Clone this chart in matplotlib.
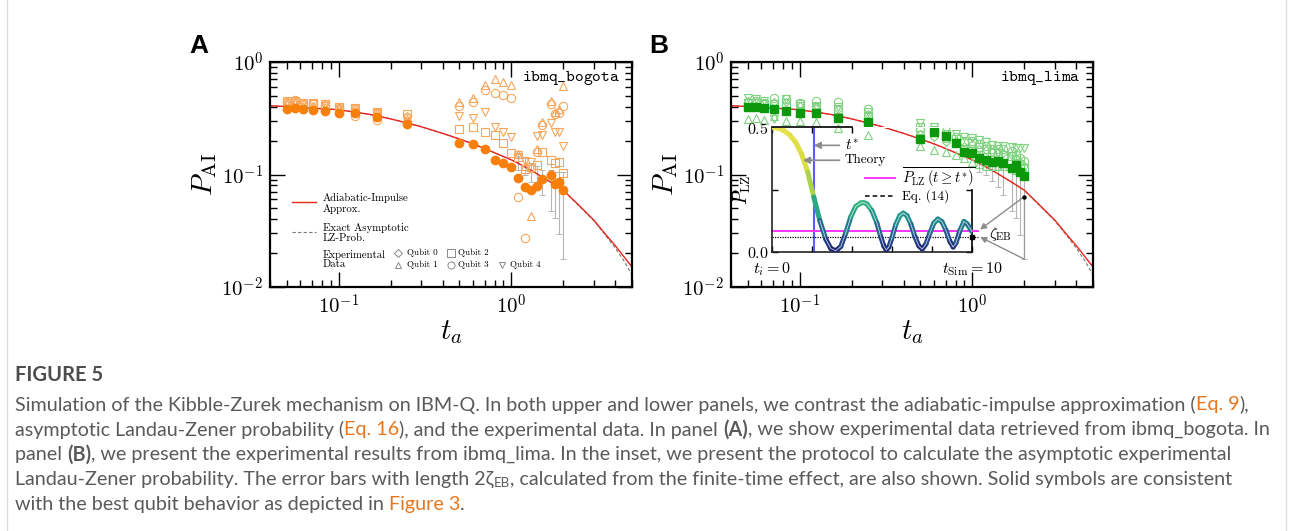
import numpy as np
import matplotlib
matplotlib.use("Agg")
import matplotlib.pyplot as plt
from matplotlib.collections import LineCollection
from matplotlib.colors import LinearSegmentedColormap
from matplotlib.ticker import LogLocator, NullFormatter

plt.rcParams["mathtext.fontset"] = "cm"
plt.rcParams["font.family"] = "DejaVu Sans"
SERIF = "cmr10"
nan = np.nan

# ---------------- data ----------------
t_a = [0.05, 0.0556, 0.0625, 0.0714, 0.0833, 0.1, 0.125, 0.1667, 0.25,
       0.5, 0.6, 0.7, 0.8, 0.9, 1.0, 1.1, 1.2, 1.3, 1.4, 1.5, 1.7, 1.8, 1.9, 2.0]

# panel A : ibmq_bogota
bogota_best = [0.386, 0.392, 0.381, 0.373, 0.366, 0.351, 0.355, 0.323, 0.284,
               0.191, 0.187, 0.169, 0.135, 0.126, 0.116, 0.0927, 0.0782, 0.0727,
               0.0797, 0.0912, 0.0983, 0.0823, 0.0852, 0.0727]
bogota_q0 = [0.43, 0.44, 0.42, 0.41, 0.42, 0.39, 0.38, 0.36, 0.33] + [nan] * 15
bogota_q1 = [0.42, 0.43, 0.41, 0.40, 0.40, 0.38, 0.37, 0.35, 0.31,
             0.437, 0.475, 0.63, 0.71, 0.67, 0.63, 0.153, 0.118, 0.043, 0.168,
             0.29, 0.446, 0.36, 0.38, 0.607]
bogota_q2 = [0.45, 0.44, 0.43, 0.43, 0.42, 0.40, 0.39, 0.36, 0.345,
             0.254, 0.262, 0.238, 0.225, 0.19, 0.156, 0.144, 0.113, 0.116, 0.122,
             0.16, 0.135, 0.126, 0.128, 0.103]
bogota_q3 = [0.44, 0.46, 0.42, 0.42, 0.41, 0.39, 0.33, 0.305, 0.29,
             0.41, 0.44, 0.566, 0.53, 0.505, 0.477, 0.0636, 0.0275, 0.115, 0.16,
             0.278, 0.422, 0.344, 0.351, 0.407]
bogota_q4 = [0.43, 0.45, 0.43, 0.42, 0.42, 0.40, 0.38, 0.355, 0.32,
             0.332, 0.317, 0.358, 0.262, 0.241, 0.217, 0.15, 0.133, 0.13, 0.22,
             0.225, 0.287, 0.238, 0.24, 0.181]

# panel B : ibmq_lima
lima_best = [0.396, 0.401, 0.387, 0.38, 0.367, 0.35, 0.35, 0.316, 0.291,
             0.207, 0.237, 0.221, 0.189, 0.157, 0.154, 0.139, 0.134, 0.128,
             0.132, 0.126, 0.114, 0.121, 0.106, 0.096]
lima_q0 = [0.45, 0.44, 0.43, 0.44, 0.44, 0.41, 0.40, 0.38, 0.345,
           0.23, 0.215, 0.195, 0.20, 0.18, 0.185, 0.17, 0.165, 0.158, 0.16,
           0.155, 0.15, 0.14, 0.13, 0.12]
lima_q1 = [0.31, 0.32, 0.305, 0.33, 0.30, 0.30, 0.29, 0.26, 0.225,
           0.18, 0.165, 0.157, 0.149, 0.141, 0.13, 0.125, 0.12, 0.118, 0.12,
           0.118, 0.115, 0.11, 0.108, 0.105]
lima_q2 = [0.43, 0.43, 0.42, 0.42, 0.43, 0.42, 0.40, 0.38, 0.33,
           0.265, 0.25, 0.23, 0.205, 0.20, 0.19, 0.175, 0.17, 0.16, 0.155,
           0.15, 0.145, 0.135, 0.125, 0.115]
lima_q3 = [0.44, 0.45, 0.43, 0.48, 0.47, 0.43, 0.45, 0.44, 0.38,
           0.25, 0.24, 0.21, 0.215, 0.193, 0.198, 0.185, 0.178, 0.167, 0.167,
           0.167, 0.162, 0.149, 0.139, 0.132]
lima_q4 = [0.48, 0.47, 0.45, 0.31, 0.47, 0.41, 0.41, 0.40, 0.36,
           0.285, 0.266, 0.244, 0.228, 0.217, 0.213, 0.203, 0.193, 0.183, 0.18,
           0.18, 0.177, 0.173, 0.173, 0.171]

# error bars (length 2 zeta_EB)
err_t = [1.1, 1.2, 1.3, 1.4, 1.5, 1.7, 1.8, 1.9, 2.0]
bogota_err_lo = [0.110, 0.099, 0.0866, 0.0833, 0.0657, 0.0475, 0.0409, 0.0293, 0.0177]
bogota_err_hi = [0.153, 0.139, 0.126, 0.118, 0.110, 0.110, 0.106, 0.106, 0.106]
lima_err_lo = [0.106, 0.100, 0.087, 0.078, 0.0657, 0.047, 0.041, 0.029, 0.0177]
lima_err_hi = [0.135, 0.133, 0.126, 0.120, 0.120, 0.114, 0.118, 0.110, 0.110]

# theory curves
theory_t = [0.04, 0.05, 0.07, 0.1, 0.15, 0.2, 0.25, 0.3, 0.4, 0.5, 0.6, 0.7, 0.8,
            1.0, 1.2, 1.4, 1.7, 2.0, 2.5, 3.0, 3.5, 4.0, 4.5, 5.0]
p_ai = [0.408, 0.402, 0.39, 0.376, 0.343, 0.312, 0.287, 0.266, 0.232, 0.207,
        0.187, 0.170, 0.156, 0.135, 0.117, 0.102, 0.085, 0.0725, 0.052, 0.0394,
        0.0296, 0.0233, 0.0185, 0.0151]
p_exact = [0.408, 0.402, 0.39, 0.376, 0.343, 0.312, 0.287, 0.266, 0.232, 0.207,
           0.187, 0.170, 0.156, 0.135, 0.117, 0.102, 0.085, 0.0725, 0.0515, 0.039,
           0.029, 0.0222, 0.017, 0.0128]

# inset: P_LZ(t) for one run
lz_t = [0.0, 0.3, 0.6, 0.9, 1.2, 1.5, 1.8, 2.1, 2.4, 2.7, 2.95, 3.2, 3.45, 3.7,
        3.95, 4.2, 4.45, 4.6, 4.75, 5.0, 5.25, 5.45, 5.6, 5.72, 5.85, 6.0, 6.2,
        6.4, 6.57, 6.75, 6.95, 7.15, 7.35, 7.52, 7.7, 7.9, 8.1, 8.3, 8.5, 8.7,
        8.9, 9.06, 9.2, 9.4, 9.6, 9.75, 10.0]
lz_p = [0.500, 0.498, 0.488, 0.470, 0.440, 0.392, 0.320, 0.220, 0.125, 0.050,
        0.012, 0.003, 0.020, 0.075, 0.140, 0.182, 0.196, 0.197, 0.192, 0.165,
        0.115, 0.058, 0.022, 0.006, 0.018, 0.055, 0.110, 0.145, 0.155, 0.145,
        0.110, 0.060, 0.022, 0.010, 0.030, 0.075, 0.115, 0.131, 0.120, 0.085,
        0.040, 0.018, 0.035, 0.085, 0.121, 0.112, 0.080]
t_star = 2.1
p_lz_mean = 0.083
p_eq14 = 0.060

# ---------------- style ----------------
RED = "#e8261e"
OR_SOLID = "#f77f0a"
OR_HOLLOW = "#f7a65a"
GR_SOLID = "#0b990b"
GR_HOLLOW = "#7fd27f"
MARK = {"q0": "D", "q1": "^", "q2": "s", "q3": "o", "q4": "v"}
MS = {"q0": 4.5, "q1": 5.5, "q2": 6, "q3": 6, "q4": 5.5}

W, H = 1292, 531
fig = plt.figure(figsize=(W / 100, H / 100), dpi=100)
axA = fig.add_axes([270 / W, 1 - 287 / H, 362 / W, 225 / H])
axB = fig.add_axes([731 / W, 1 - 287 / H, 362 / W, 225 / H])


def style_main(ax, name):
    ax.set_xscale("log")
    ax.set_yscale("log")
    ax.set_xlim(0.04, 5)
    ax.set_ylim(0.01, 1)
    ax.set_xticks([0.1, 1])
    ax.set_xticklabels([r"$10^{-1}$", r"$10^{0}$"])
    ax.set_yticks([0.01, 0.1, 1])
    ax.set_yticklabels([r"$10^{-2}$", r"$10^{-1}$", r"$10^{0}$"])
    for axis in (ax.xaxis, ax.yaxis):
        axis.set_minor_locator(LogLocator(base=10, subs=np.arange(2, 10)))
        axis.set_minor_formatter(NullFormatter())
    ax.tick_params(which="both", direction="in", top=True, right=True)
    ax.tick_params(which="major", length=11, width=1.0, labelsize=15, pad=5)
    ax.tick_params(which="minor", length=5, width=1.0)
    for s in ax.spines.values():
        s.set_linewidth(1.6)
    ax.set_xlabel(r"$t_a$", fontsize=21, labelpad=0)
    ax.set_ylabel(r"$P_{\rm AI}$", fontsize=21, labelpad=2)
    ax.text(0.967, 0.929, r"$\mathtt{" + name + "}$", transform=ax.transAxes,
            ha="right", va="center", fontsize=12)
    ax.plot(theory_t, p_exact, color="#777777", lw=0.8, ls=(0, (3, 2)), zorder=2)
    ax.plot(theory_t, p_ai, color=RED, lw=1.0, zorder=2.1)


def plot_data(ax, series, best, solid_marker, c_solid, c_hollow, lo, hi):
    ax.errorbar(err_t, hi, yerr=[np.subtract(hi, lo), np.zeros(len(hi))], fmt="none",
                ecolor="#b5b5b5", elinewidth=0.8, capsize=2, capthick=0.7, zorder=1)
    for key, vals in series.items():
        ax.plot(t_a, vals, ls="none", marker=MARK[key], ms=MS[key], mfc="none",
                mec=c_hollow, mew=0.8, zorder=3)
    ax.plot(t_a, best, ls="none", marker=solid_marker, ms=6, color=c_solid,
            mec=c_solid, zorder=4)


style_main(axA, r"ibmq\_bogota")
style_main(axB, r"ibmq\_lima")
plot_data(axA, {"q0": bogota_q0, "q1": bogota_q1, "q2": bogota_q2, "q3": bogota_q3,
                "q4": bogota_q4}, bogota_best, "o", OR_SOLID, OR_HOLLOW,
          bogota_err_lo, bogota_err_hi)
plot_data(axB, {"q0": lima_q0, "q1": lima_q1, "q2": lima_q2, "q3": lima_q3,
                "q4": lima_q4}, lima_best, "s", GR_SOLID, GR_HOLLOW,
          lima_err_lo, lima_err_hi)

# panel letters
fig.text(189 / W, 1 - 46 / H, "A", fontsize=19, fontweight="bold",
         family="Liberation Sans", va="center")
fig.text(649 / W, 1 - 46 / H, "B", fontsize=19, fontweight="bold",
         family="Liberation Sans", va="center")

# hand-made legend in panel A
tr = axA.transAxes
axA.plot([0.060, 0.127], [0.376, 0.376], transform=tr, color=RED, lw=1.0)
axA.text(0.146, 0.372, "Adiabatic-Impulse\nApprox.", transform=tr, va="center",
         family=SERIF, fontsize=7.8, linespacing=1.05)
axA.plot([0.060, 0.127], [0.243, 0.243], transform=tr, color="#777777", lw=0.8,
         ls=(0, (3, 2)))
axA.text(0.146, 0.240, "Exact Asymptotic\nLZ-Prob.", transform=tr, va="center",
         family=SERIF, fontsize=7.8, linespacing=1.05)
axA.text(0.146, 0.122, "Experimental\nData", transform=tr, va="center",
         family=SERIF, fontsize=7.8, linespacing=1.05)
for key, mx, my, tx in [("q0", 0.354, 0.150, 0.378), ("q2", 0.499, 0.150, 0.520),
                        ("q1", 0.354, 0.098, 0.378), ("q3", 0.499, 0.098, 0.520),
                        ("q4", 0.642, 0.098, 0.664)]:
    axA.plot([mx], [my], transform=tr, marker=MARK[key], ms=MS[key] * 0.85,
             mfc="none", mec="#8a8a8a", mew=0.7, ls="none")
    axA.text(tx, my, "Qubit " + key[1], transform=tr, va="center", family=SERIF,
             fontsize=6.5)

# arrows in panel B pointing to the inset
axB.vlines(2.0, 0.0177, 0.0636, color="#999999", lw=0.9, zorder=1)
axB.plot([2.0], [0.0636], "o", ms=2.2, color="k", zorder=5)
arw = dict(arrowstyle="-|>", color="#8c8c8c", lw=1.0, shrinkA=0, shrinkB=0,
           mutation_scale=9)
axB.annotate("", xy=(1.108, 0.0324), xytext=(2.0, 0.0636), arrowprops=arw)
axB.annotate("", xy=(1.11, 0.0278), xytext=(2.0, 0.0177), arrowprops=arw)
axB.text(0.713, 0.236, r"$\zeta_{\rm EB}$", transform=axB.transAxes, fontsize=11,
         va="center")

# ---------------- inset ----------------
ins = fig.add_axes([771.7 / W, 1 - 251.5 / H, 200.3 / W, 124 / H])
ins.patch.set_visible(False)
ins.set_xlim(0, 10)
ins.set_ylim(0, 0.5)

cmap = LinearSegmentedColormap.from_list(
    "lz", [(0.0, "#1d1f6e"), (0.12, "#25508f"), (0.26, "#1c8e8c"),
           (0.40, "#38b97c"), (0.50, "#8fcf55"), (0.60, "#d4db3f"), (1.0, "#e8e24c")])
pts = np.column_stack([lz_t, lz_p])
segs = np.stack([pts[:-1], pts[1:]], axis=1)
lc = LineCollection(segs, cmap=cmap, norm=plt.Normalize(0, 0.5), linewidths=3.6,
                    capstyle="round", joinstyle="round", zorder=3)
lc.set_array(0.5 * (pts[:-1, 1] + pts[1:, 1]))
ins.add_collection(lc)
osc = np.asarray(lz_t) > 2.3
ins.plot(np.asarray(lz_t)[osc], np.asarray(lz_p)[osc], color="white", lw=0.6,
         alpha=0.75, zorder=4)

ins.axvline(t_star, color="#5b5bff", lw=1.5, zorder=2)
ins.plot([0, 10.3], [p_lz_mean, p_lz_mean], color="#ff33ff", lw=1.4, clip_on=False,
         zorder=2)
ins.plot([0, 10.3], [p_eq14, p_eq14], color="k", lw=0.9, ls=(0, (1, 1)),
         clip_on=False, zorder=2)
ins.plot([10], [p_eq14], "s", ms=2.5, color="k", clip_on=False, zorder=5)

for s in ins.spines.values():
    s.set_linewidth(1.2)
    s.set_color("#222222")
ins.spines["top"].set_visible(False)
ins.spines["right"].set_visible(False)
ins.set_xticks([0, 2, 4, 6, 8, 10])
ins.set_xticklabels([r"$t_i = 0$", "", "", "", "", r"$t_{\rm Sim} = 10$"])
ins.set_yticks([0, 0.25, 0.5])
ins.set_yticklabels([r"$0.0$", "", r"$0.5$"])
ins.tick_params(direction="in", length=4, width=1.0, labelsize=11.5, pad=2)
ins.tick_params(axis="x", pad=6)
sec_x = ins.secondary_xaxis("top")
sec_x.set_xticks([0, 2, 4])
sec_x.tick_params(direction="in", length=4, width=1.0, labeltop=False)
sec_x.spines["top"].set_bounds(0, 4)
sec_x.spines["top"].set_linewidth(1.2)
sec_y = ins.secondary_yaxis("right")
sec_y.set_yticks([0, 0.25])
sec_y.tick_params(direction="in", length=4, width=1.0, labelright=False)
sec_y.spines["right"].set_bounds(0, 0.25)
sec_y.spines["right"].set_linewidth(1.2)
ins.set_ylabel(r"$P_{\rm LZ}$", fontsize=14, labelpad=-4)

arw2 = dict(arrowstyle="-|>", color="#8c8c8c", lw=1.2, shrinkA=2, shrinkB=0,
            mutation_scale=10)
ins.annotate(r"$t^{*}$", xy=(t_star, 0.428), xytext=(3.66, 0.428), va="center",
             ha="left", fontsize=11, arrowprops=arw2)
ins.annotate("Theory", xy=(1.56, 0.368), xytext=(3.66, 0.368), va="center",
             ha="left", fontsize=9.5, family=SERIF, arrowprops=arw2)
ins.plot([4.66, 6.15], [0.295, 0.295], color="#ff33ff", lw=1.4, clip_on=False)
ins.text(6.5, 0.295, r"$\overline{P_{\rm LZ}\,(t \geq t^{*})}$", fontsize=10.5,
         va="center")
ins.plot([4.66, 6.15], [0.224, 0.224], color="k", lw=1.1, ls=(0, (3, 2)),
         clip_on=False)
ins.text(6.5, 0.224, "Eq. (14)", fontsize=9.5, family=SERIF, va="center")

# ---------------- caption ----------------
GREY = "#5a5a5a"
ORANGE = "#e8761c"
CAP_FONT = "Lato"
renderer = fig.canvas.get_renderer()


def text_width(s, size, weight="normal"):
    t = fig.text(0, 0, "|" + s + "|", fontsize=size, family=CAP_FONT, fontweight=weight)
    w = t.get_window_extent(renderer).width
    t.remove()
    t = fig.text(0, 0, "||", fontsize=size, family=CAP_FONT, fontweight=weight)
    w -= t.get_window_extent(renderer).width
    t.remove()
    return w


caption = [
    [("Simulation of the Kibble-Zurek mechanism on IBM-Q. In both upper and lower "
      "panels, we contrast the adiabatic-impulse approximation (", GREY, "normal"),
     ("Eq. 9", ORANGE, "normal"), ("),", GREY, "normal")],
    [("asymptotic Landau-Zener probability (", GREY, "normal"), ("Eq. 16", ORANGE, "normal"),
     ("), and the experimental data. In panel ", GREY, "normal"), ("(A)", GREY, "bold"),
     (", we show experimental data retrieved from ibmq_bogota. In", GREY, "normal")],
    [("panel ", GREY, "normal"), ("(B)", GREY, "bold"),
     (", we present the experimental results from ibmq_lima. In the inset, we present "
      "the protocol to calculate the asymptotic experimental", GREY, "normal")],
    [("Landau-Zener probability. The error bars with length 2\u03b6", GREY, "normal"),
     ("EB", GREY, "sub"),
     (", calculated from the finite-time effect, are also shown. Solid symbols are "
      "consistent", GREY, "normal")],
    [("with the best qubit behavior as depicted in ", GREY, "normal"),
     ("Figure 3", ORANGE, "normal"), (".", GREY, "normal")],
]
line_y = [403, 428, 453, 478, 503]

full1 = "".join(s for s, _, _ in caption[0])
size = 11.0 * 1235.0 / text_width(full1, 11.0)

fig.text(15 / W, 1 - 375 / H, "FIGURE 5", fontsize=size * 1.02, family=CAP_FONT,
         fontweight="bold", color="#4d4d4d", va="center")
for segs_line, y in zip(caption, line_y):
    x = 15.0
    for s, col, kind in segs_line:
        if kind == "sub":
            fs, dy, wt = size * 0.68, 4.0, "normal"
        else:
            fs, dy, wt = size, 0.0, kind
        fig.text(x / W, 1 - (y + dy) / H, s, fontsize=fs, family=CAP_FONT,
                 fontweight=wt, color=col, va="center_baseline")
        x += text_width(s, fs, wt)

# faint frame of the page
fig.add_artist(plt.Line2D([7 / W, 7 / W], [0, 1], color="#dddddd", lw=1))
fig.add_artist(plt.Line2D([1286 / W, 1286 / W], [0, 1], color="#dddddd", lw=1))

fig.savefig("out.png", dpi=100)
